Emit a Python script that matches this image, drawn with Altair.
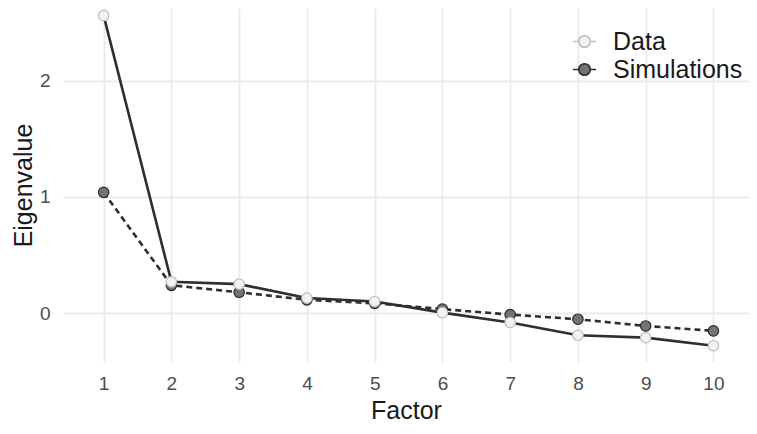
import altair as alt
import pandas as pd

factors = [1, 2, 3, 4, 5, 6, 7, 8, 9, 10]
data_vals = [2.56, 0.27, 0.25, 0.13, 0.10, 0.005, -0.08, -0.19, -0.21, -0.28]
sim_vals = [1.04, 0.24, 0.18, 0.115, 0.085, 0.035, -0.012, -0.052, -0.11, -0.152]
series_names = ["Data", "Simulations"]

df = pd.DataFrame({
    "Factor": factors * 2,
    "Eigenvalue": data_vals + sim_vals,
    "Series": [series_names[0]] * len(factors) + [series_names[1]] * len(factors),
})

FONT = "Liberation Sans"

x = alt.X("Factor:Q",
          scale=alt.Scale(domain=[0.4, 10.525], nice=False, zero=False),
          axis=alt.Axis(values=factors, title="Factor", grid=True, ticks=False,
                        domain=False, labelPadding=12, labelFontSize=19,
                        labelColor="#4d4d4d", titleFontSize=25, titleColor="#1a1a1a",
                        titleFontWeight="normal", titlePadding=5, labelFont=FONT,
                        titleFont=FONT, gridColor="#ebebeb", gridWidth=1.8))
y = alt.Y("Eigenvalue:Q",
          scale=alt.Scale(domain=[-0.42, 2.626], nice=False, zero=False),
          axis=alt.Axis(values=[0, 1, 2], title="Eigenvalue", grid=True, ticks=False,
                        domain=False, labelPadding=13, labelFontSize=19,
                        labelColor="#4d4d4d", titleFontSize=25, titleColor="#1a1a1a",
                        titleFontWeight="normal", titlePadding=3, labelFont=FONT,
                        titleFont=FONT, gridColor="#ebebeb", gridWidth=1.8))

base = alt.Chart(df)

sim_line = base.transform_filter(alt.datum.Series == "Simulations").mark_line(
    color="#2e2e2e", strokeWidth=2.6, strokeDash=[6, 4]).encode(x=x, y=y)
data_line = base.transform_filter(alt.datum.Series == "Data").mark_line(
    color="#2e2e2e", strokeWidth=2.6).encode(x=x, y=y)

legend_path = ("M-1,0L-0.55,0M0.55,0L1,0"
               "M0.5,0A0.5,0.5 0 1,1 -0.5,0A0.5,0.5 0 1,1 0.5,0Z")

points = base.mark_point(filled=True, size=110, strokeWidth=1.2, opacity=1).encode(
    x=x, y=y,
    fill=alt.Fill("Series:N",
                  scale=alt.Scale(domain=series_names, range=["#f2f2f2", "#737373"]),
                  legend=alt.Legend(title=None, orient="none", legendX=509, legendY=21,
                                    symbolType=legend_path, symbolSize=529,
                                    symbolStrokeColor="#333333", symbolStrokeWidth=1.6,
                                    labelFontSize=25, labelFont=FONT, labelColor="#1a1a1a",
                                    labelOffset=16, rowPadding=2, symbolOpacity=1)),
    stroke=alt.Stroke("Series:N",
                      scale=alt.Scale(domain=series_names, range=["#bdbdbd", "#2b2b2b"]),
                      legend=None),
    order=alt.Order("Series:N", sort="descending"),
)

chart = alt.layer(sim_line, data_line, points).properties(
    width=686, height=354,
    autosize=alt.AutoSizeParams(type="none"),
    padding={"left": 55, "top": 0, "right": 0, "bottom": 64},
).configure_view(strokeWidth=0)

chart.save("out.html", embed_options={"renderer": "svg", "actions": False})
